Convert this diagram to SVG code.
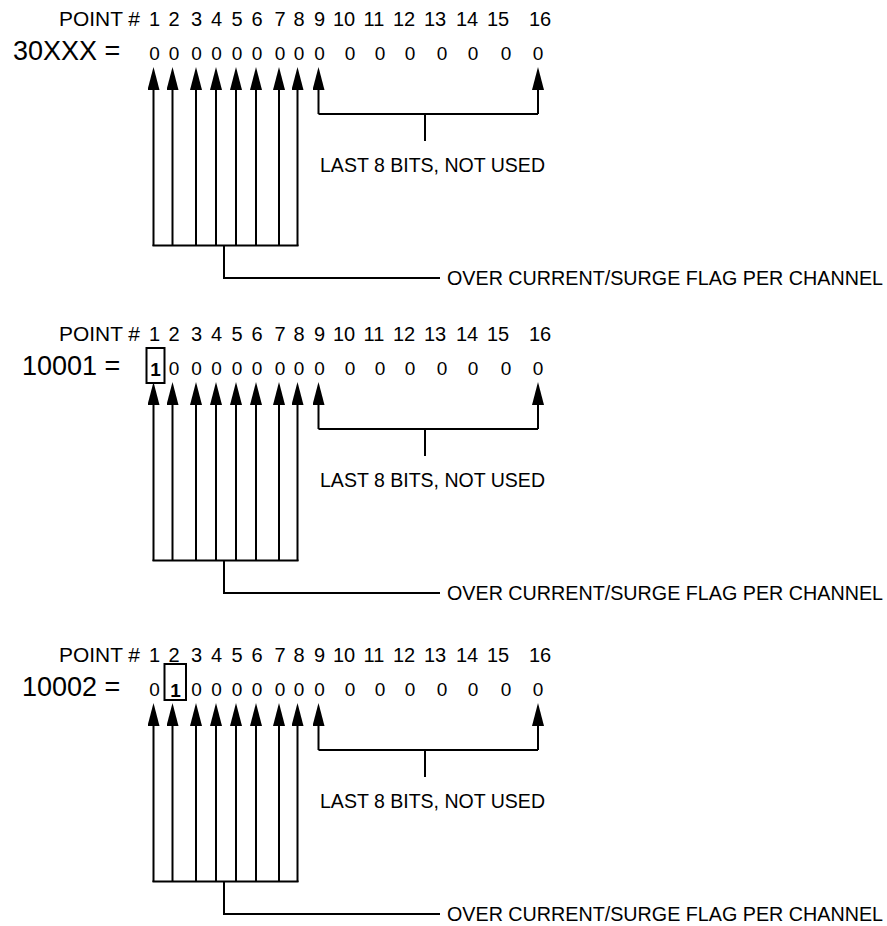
<svg xmlns="http://www.w3.org/2000/svg" width="887" height="926" viewBox="0 0 887 926">
<style>
text{font-family:"Liberation Sans",Arial,Helvetica,sans-serif;fill:#000}
.hdr{font-size:20px}
.lbl{font-size:27px}
.bit{font-size:19px;text-anchor:middle}
.one{font-size:19px;text-anchor:middle;font-weight:bold}
.note{font-size:20px}
.ln{stroke:#000;stroke-width:2;fill:none}
.box{stroke:#000;stroke-width:2;fill:none}
</style>
<defs>
<marker id="ah" markerUnits="userSpaceOnUse" markerWidth="23" markerHeight="12" viewBox="0 0 23 12" refX="15" refY="6" orient="auto">
<path d="M0,0 L23,6 L0,12 z" fill="#000"/>
</marker>
<g id="hdrrow">
<text class="hdr" x="59" y="26" textLength="81" lengthAdjust="spacingAndGlyphs">POINT #</text>
<g class="hdr" text-anchor="middle">
<text x="154.5" y="26">1</text><text x="174" y="26">2</text><text x="196.5" y="26">3</text><text x="216.5" y="26">4</text>
<text x="237" y="26">5</text><text x="257" y="26">6</text><text x="280" y="26">7</text><text x="299" y="26">8</text>
<text x="319.5" y="26">9</text><text x="344" y="26">10</text><text x="374" y="26">11</text><text x="404" y="26">12</text>
<text x="435" y="26">13</text><text x="467" y="26">14</text><text x="498" y="26">15</text><text x="540" y="26">16</text>
</g>
</g>
<g id="conns">
<g class="ln" marker-end="url(#ah)">
<line x1="153.5" y1="246" x2="153.5" y2="75"/>
<line x1="172.5" y1="246" x2="172.5" y2="75"/>
<line x1="196" y1="246" x2="196" y2="75"/>
<line x1="216" y1="246" x2="216" y2="75"/>
<line x1="236" y1="246" x2="236" y2="75"/>
<line x1="256" y1="246" x2="256" y2="75"/>
<line x1="279" y1="246" x2="279" y2="75"/>
<line x1="297.5" y1="246" x2="297.5" y2="75"/>
<line x1="318.5" y1="114" x2="318.5" y2="75"/>
<line x1="538" y1="114" x2="538" y2="75"/>
</g>
<path class="ln" d="M318.5,114 H538 M425,114 V141 M152.5,245.5 H298.5 M224,245.5 V278 H440"/>
</g>
<g id="notes">
<text class="note" x="320" y="172" textLength="225" lengthAdjust="spacingAndGlyphs">LAST 8 BITS, NOT USED</text>
<text class="note" x="447" y="285" textLength="436" lengthAdjust="spacingAndGlyphs">OVER CURRENT/SURGE FLAG PER CHANNEL</text>
</g>
</defs>

<g id="register-30XXX">
<use href="#hdrrow"/>
<text class="lbl" x="13" y="60">30XXX =</text>
<g class="bit">
<text x="154.5" y="60">0</text><text x="174" y="60">0</text><text x="196.5" y="60">0</text><text x="216.5" y="60">0</text>
<text x="237" y="60">0</text><text x="257" y="60">0</text><text x="280" y="60">0</text><text x="299" y="60">0</text>
<text x="319.5" y="60">0</text><text x="350" y="60">0</text><text x="380" y="60">0</text><text x="410" y="60">0</text>
<text x="442" y="60">0</text><text x="473" y="60">0</text><text x="506" y="60">0</text><text x="538" y="60">0</text>
</g>
<use href="#notes"/>
</g>
<g id="connectors-30XXX"><use href="#conns"/></g>

<g id="register-10001" transform="translate(0,315)">
<use href="#hdrrow"/>
<text class="lbl" x="22" y="60">10001 =</text>
<rect class="box" x="146.5" y="33" width="18" height="35"/>
<text class="one" x="155.5" y="61">1</text>
<g class="bit">
<text x="174" y="60">0</text><text x="196.5" y="60">0</text><text x="216.5" y="60">0</text>
<text x="237" y="60">0</text><text x="257" y="60">0</text><text x="280" y="60">0</text><text x="299" y="60">0</text>
<text x="319.5" y="60">0</text><text x="350" y="60">0</text><text x="380" y="60">0</text><text x="410" y="60">0</text>
<text x="442" y="60">0</text><text x="473" y="60">0</text><text x="506" y="60">0</text><text x="538" y="60">0</text>
</g>
<use href="#notes"/>
</g>
<g id="connectors-10001" transform="translate(0,315)"><use href="#conns"/></g>

<g id="register-10002" transform="translate(0,636)">
<use href="#hdrrow"/>
<text class="lbl" x="22" y="60">10002 =</text>
<rect class="box" x="164.5" y="28" width="21.5" height="36"/>
<text class="one" x="175.5" y="61">1</text>
<g class="bit">
<text x="154.5" y="60">0</text><text x="196.5" y="60">0</text><text x="216.5" y="60">0</text>
<text x="237" y="60">0</text><text x="257" y="60">0</text><text x="280" y="60">0</text><text x="299" y="60">0</text>
<text x="319.5" y="60">0</text><text x="350" y="60">0</text><text x="380" y="60">0</text><text x="410" y="60">0</text>
<text x="442" y="60">0</text><text x="473" y="60">0</text><text x="506" y="60">0</text><text x="538" y="60">0</text>
</g>
<use href="#notes"/>
</g>
<g id="connectors-10002" transform="translate(0,636)"><use href="#conns"/></g>
</svg>
